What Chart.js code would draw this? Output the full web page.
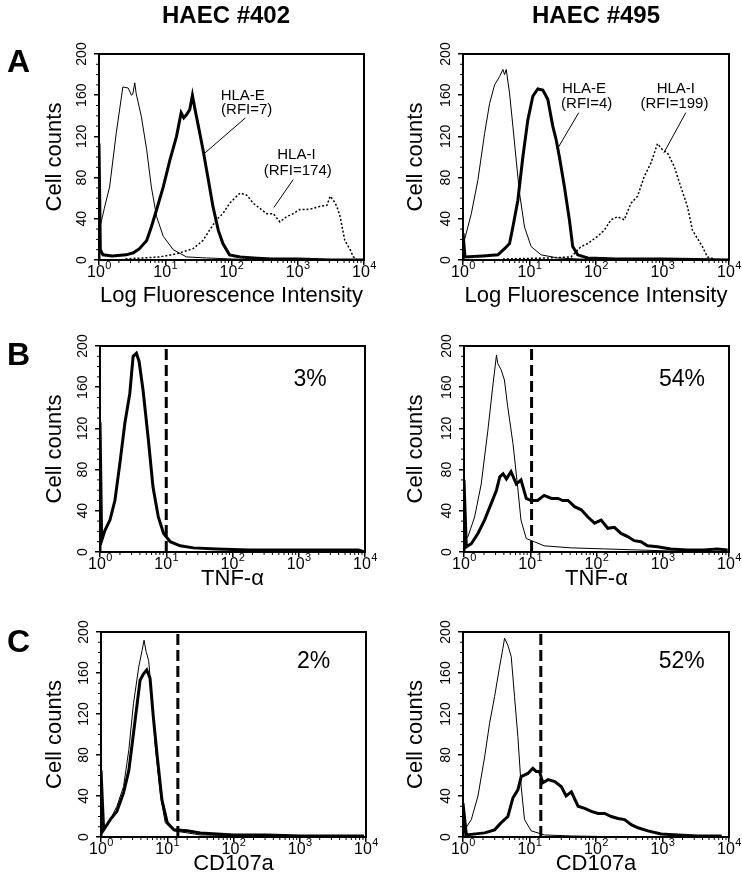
<!DOCTYPE html>
<html>
<head>
<meta charset="utf-8">
<script src="https://cdn.jsdelivr.net/npm/chart.js@4"></script>
<style>
body{margin:0;background:#fff;width:742px;height:885px;position:relative;overflow:hidden}
canvas{position:absolute}
</style>
</head>
<body>
<canvas id="a402"></canvas><canvas id="a495"></canvas>
<canvas id="b402"></canvas><canvas id="b495"></canvas>
<canvas id="c402"></canvas><canvas id="c495"></canvas>
<script>
"use strict"

// x values are log10 decades (0 = 10^0 ... 4 = 10^4), y values are cell counts
// panel A, HAEC #402
var a402Ctrl = [[0,28],[0.08,50],[0.16,71],[0.26,123],[0.36,168],[0.44,167],[0.49,160],[0.51,161],[0.54,172],[0.56,162],[0.64,139],[0.72,107],[0.79,71],[0.87,42],[0.97,23],[1.12,10],[1.32,3],[1.62,2],[2.0,1],[2.4,0]]
var a402HlaE = [[0,0],[0,113],[0.02,10],[0.06,5],[0.2,4],[0.41,5],[0.52,7],[0.61,11],[0.72,19],[0.79,32],[0.87,49],[0.97,71],[1.07,97],[1.17,120],[1.24,143],[1.28,138],[1.32,141],[1.37,146],[1.41,160],[1.45,146],[1.50,130],[1.57,107],[1.65,78],[1.72,52],[1.80,29],[1.87,16],[1.97,5],[2.13,3],[2.33,2],[2.6,1],[3.0,1],[3.5,0],[4,0]]
var a402HlaI = [[0.4,1],[0.92,3],[1.17,6],[1.42,11],[1.57,19],[1.67,29],[1.77,39],[1.87,45],[1.97,55],[2.08,62],[2.13,65],[2.23,63],[2.33,55],[2.43,50],[2.53,45],[2.63,45],[2.73,37],[2.83,42],[2.93,45],[3.03,49],[3.13,49],[3.23,50],[3.33,52],[3.44,53],[3.49,62],[3.54,58],[3.59,52],[3.64,42],[3.71,19],[3.79,10],[3.84,3],[3.89,1]]
// panel A, HAEC #495
var a495Ctrl = [[0.02,19],[0.125,45],[0.225,78],[0.325,123],[0.40,152],[0.475,170],[0.55,178],[0.60,185],[0.625,180],[0.65,185],[0.70,162],[0.75,130],[0.80,97],[0.85,65],[0.925,32],[1.025,13],[1.175,5],[1.425,2],[1.725,1],[2.2,0]]
var a495HlaE = [[0,0],[0,26],[0.03,3],[0.3,4],[0.525,5],[0.625,11],[0.7,16],[0.75,32],[0.825,58],[0.9,100],[0.975,136],[1.05,159],[1.125,166],[1.2,165],[1.275,156],[1.35,130],[1.4,117],[1.45,100],[1.525,71],[1.6,39],[1.65,13],[1.725,5],[1.875,2],[2.3,1],[3,1],[4,0]]
var a495HlaI = [[0.6,1],[1.3,2],[1.625,3],[1.775,13],[1.875,16],[2.025,23],[2.125,29],[2.225,39],[2.325,42],[2.425,39],[2.525,55],[2.625,62],[2.725,81],[2.825,94],[2.925,113],[3.0,107],[3.075,104],[3.175,91],[3.275,71],[3.375,52],[3.45,29],[3.525,21],[3.6,13],[3.675,3],[3.775,1]]
// panel B, TNF-alpha
var b402Stim = [[0,0],[0,126],[0.025,11],[0.075,21],[0.15,31],[0.225,50],[0.3,86],[0.375,125],[0.45,154],[0.5,190],[0.55,193],[0.59,185],[0.65,157],[0.73,109],[0.8,63],[0.88,34],[0.96,18],[1.06,10],[1.21,6],[1.41,4],[1.76,3],[2.26,2],[3.0,2],[3.52,2],[3.9,2],[4,0]]
var b495Ctrl = [[0,10],[0.06,15],[0.16,34],[0.26,66],[0.36,118],[0.44,164],[0.49,191],[0.51,183],[0.56,177],[0.61,167],[0.66,141],[0.74,105],[0.81,63],[0.86,31],[0.94,13],[1.06,10],[1.21,6],[1.62,4],[2.12,3],[2.62,2],[3.12,1],[3.6,0]]
var b495Stim = [[0,0],[0,70],[0.035,5],[0.11,8],[0.21,18],[0.31,31],[0.41,47],[0.49,60],[0.54,73],[0.59,76],[0.64,71],[0.71,78],[0.79,66],[0.86,70],[0.94,52],[1.01,50],[1.11,50],[1.21,55],[1.32,52],[1.42,52],[1.49,50],[1.57,50],[1.67,44],[1.77,41],[1.87,34],[1.97,28],[2.07,31],[2.17,23],[2.27,24],[2.37,18],[2.47,15],[2.57,11],[2.67,10],[2.77,6],[2.92,5],[3.12,3],[3.37,2],[3.62,2],[3.82,3],[3.98,2]]
// panel C, CD107a
var c402Ctrl = [[0.04,7],[0.14,17],[0.24,30],[0.34,49],[0.42,85],[0.49,130],[0.57,166],[0.62,182],[0.65,192],[0.68,181],[0.72,172],[0.77,133],[0.82,88],[0.9,40],[0.97,14],[1.1,6],[1.5,2],[2.5,1],[3.2,0]]
var c402Stim = [[0,0],[0,65],[0.04,7],[0.14,17],[0.24,25],[0.34,43],[0.42,65],[0.49,101],[0.54,127],[0.59,153],[0.64,159],[0.69,163],[0.74,155],[0.79,117],[0.85,78],[0.92,36],[1.0,14],[1.1,7],[1.3,6],[1.5,4],[2.0,2],[2.5,2],[3.0,1],[3.5,1],[3.97,1]]
var c495Ctrl = [[0.025,7],[0.125,17],[0.225,40],[0.325,78],[0.4,111],[0.475,137],[0.55,166],[0.6,184],[0.625,194],[0.675,187],[0.725,176],[0.775,137],[0.825,98],[0.875,49],[0.925,17],[1.025,6],[1.225,2],[1.63,1],[2.5,0]]
var c495Stim = [[0,0],[0,33],[0.05,2],[0.325,4],[0.475,7],[0.575,14],[0.675,20],[0.75,38],[0.825,46],[0.875,59],[0.975,62],[1.05,67],[1.1,64],[1.15,64],[1.2,53],[1.28,56],[1.38,54],[1.48,49],[1.55,40],[1.63,44],[1.73,30],[1.83,28],[1.93,25],[2.03,23],[2.13,23],[2.23,20],[2.33,18],[2.43,17],[2.53,12],[2.63,9],[2.78,6],[2.98,3],[3.23,2],[3.53,1],[3.89,1]]

// gate positions (decades) and percent positive
var gates = {b402: 1.0, b495: 1.02, c402: 1.16, c495: 1.17}
var percents = {b402: "3%", b495: "54%", c402: "2%", c495: "52%"}
var yTicks = [0, 40, 80, 120, 160, 200]
var xDecades = [0, 1, 2, 3, 4]

Chart.defaults.font.family = '"Liberation Sans", Arial, Helvetica, sans-serif'
Chart.defaults.color = '#000'

function line(points, kind){
	var ds = {
		data: points.map(function(p){ return {x: p[0], y: p[1]} }),
		showLine: true, pointRadius: 0, borderColor: '#000', fill: false, tension: 0,
		borderWidth: 1, borderJoinStyle: 'miter'
	}
	if (kind == 'thick') ds.borderWidth = 3
	if (kind == 'dot') { ds.borderWidth = 1.5; ds.borderDash = [2, 2] }
	if (kind == 'gate') { ds.borderWidth = 3; ds.borderDash = [11, 5] }
	return ds
}

var decor = {
	id: 'decor',
	afterDraw: function(chart, args, opts){
		var ctx = chart.ctx, a = chart.chartArea, x = chart.scales.x, y = chart.scales.y
		ctx.save()
		ctx.strokeStyle = '#000'
		ctx.lineWidth = 2
		ctx.strokeRect(a.left, a.top, a.right - a.left, a.bottom - a.top)
		// minor ticks
		ctx.lineWidth = 1
		ctx.beginPath()
		for (var d = 0; d < 4; d++){
			for (var k = 2; k < 10; k++){
				var px = x.getPixelForValue(d + Math.log10(k))
				ctx.moveTo(px, a.bottom); ctx.lineTo(px, a.bottom + 3)
			}
		}
		for (var v = 10; v < 200; v += 10){
			if (v % 40 == 0) continue
			var py = y.getPixelForValue(v)
			ctx.moveTo(a.left - 3, py); ctx.lineTo(a.left, py)
		}
		ctx.stroke()
		// 10^n tick labels
		ctx.fillStyle = '#000'
		ctx.textBaseline = 'alphabetic'
		ctx.textAlign = 'left'
		xDecades.forEach(function(n){
			var px = x.getPixelForValue(n)
			ctx.font = '16px "Liberation Sans"'
			var w1 = ctx.measureText('10').width
			ctx.font = '11px "Liberation Sans"'
			var w2 = ctx.measureText(String(n)).width
			var start = px - (w1 + w2) / 2
			ctx.font = '16px "Liberation Sans"'
			ctx.fillText('10', start, a.bottom + 17)
			ctx.font = '11px "Liberation Sans"'
			ctx.fillText(String(n), start + w1 + 0.5, a.bottom + 9)
		})
		// leader lines in data coordinates
		ctx.lineWidth = 1
		;(opts.leaders || []).forEach(function(l){
			ctx.beginPath()
			ctx.moveTo(x.getPixelForValue(l[0]), y.getPixelForValue(l[1]))
			ctx.lineTo(x.getPixelForValue(l[2]), y.getPixelForValue(l[3]))
			ctx.stroke()
		})
		// notes in data coordinates
		ctx.textAlign = 'center'
		ctx.textBaseline = 'middle'
		;(opts.notes || []).forEach(function(n){
			ctx.font = n.size + 'px "Liberation Sans"'
			ctx.fillText(n.text, x.getPixelForValue(n.x), y.getPixelForValue(n.y))
		})
		// headers and panel letters in canvas pixels
		ctx.textBaseline = 'alphabetic'
		;(opts.labels || []).forEach(function(l){
			ctx.font = 'bold ' + l.size + 'px "Liberation Sans"'
			ctx.textAlign = l.align
			ctx.fillText(l.text, l.x, l.y)
		})
		ctx.restore()
	}
}

function panel(id, box, datasets, xTitle, extra){
	var el = document.getElementById(id)
	el.width = box.w; el.height = box.h
	el.style.left = box.left + 'px'; el.style.top = box.top + 'px'
	return new Chart(el, {
		type: 'scatter',
		data: {datasets: datasets},
		plugins: [decor],
		options: {
			responsive: false, animation: false,
			layout: {padding: {left: 0, right: box.padRight, top: box.padTop, bottom: 0}},
			plugins: {legend: {display: false}, tooltip: {enabled: false}, decor: extra},
			scales: {
				x: {
					type: 'linear', min: 0, max: 4,
					afterBuildTicks: function(s){ s.ticks = xDecades.map(function(v){ return {value: v} }) },
					afterFit: function(s){ s.height = box.xHeight },
					ticks: {display: false},
					grid: {drawOnChartArea: false, tickLength: 5, color: '#000', lineWidth: 1.5},
					border: {color: '#000', width: 2},
					title: {display: true, text: xTitle, font: {size: 22}, padding: {top: 0, bottom: box.titlePad}}
				},
				y: {
					min: 0, max: 200,
					afterBuildTicks: function(s){ s.ticks = yTicks.map(function(v){ return {value: v} }) },
					afterFit: function(s){ s.width = box.yWidth },
					ticks: {font: {size: 14}, minRotation: 90, maxRotation: 90, crossAlign: 'center', padding: 0},
					grid: {drawOnChartArea: false, tickLength: 5, color: '#000', lineWidth: 1.5},
					border: {color: '#000', width: 2},
					title: {display: true, text: 'Cell counts', font: {size: 22}, padding: {top: box.yTitlePad, bottom: 0}}
				}
			}
		}
	})
}

function box(col, row, yWidth){
	var b = {top: row.top, h: row.h, padTop: row.padTop, xHeight: row.xHeight, titlePad: row.titlePad, yWidth: yWidth}
	if (col == 0){ b.left = 0; b.w = 392; b.padRight = 392 - yWidth - 265; b.yTitlePad = 42 }
	else { b.left = 371; b.w = 371; b.padRight = 13; b.yTitlePad = 32 }
	return b
}

var rowA = {top: 0, h: 315, padTop: 54, xHeight: 55, titlePad: 6}
var rowB = {top: 315, h: 295, padTop: 31, xHeight: 58, titlePad: 18}
var rowC = {top: 610, h: 275, padTop: 22, xHeight: 48, titlePad: 8}
var fl = 'Log Fluorescence Intensity'

panel('a402', box(0, rowA, 99), [line(a402HlaI, 'dot'), line(a402Ctrl, 'thin'), line(a402HlaE, 'thick')], fl, {
	labels: [{text: 'HAEC #402', x: 226, y: 23, size: 24, align: 'center'}, {text: 'A', x: 7, y: 72, size: 32, align: 'left'}],
	notes: [{text: 'HLA-E', x: 2.17, y: 159, size: 15}, {text: '(RFI=7)', x: 2.23, y: 146, size: 15},
		{text: 'HLA-I', x: 2.98, y: 102, size: 15}, {text: '(RFI=174)', x: 3.0, y: 87, size: 15}],
	leaders: [[2.21, 138, 1.60, 104], [2.93, 78, 2.64, 51]]
})
panel('a495', box(1, rowA, 92), [line(a495HlaI, 'dot'), line(a495Ctrl, 'thin'), line(a495HlaE, 'thick')], fl, {
	labels: [{text: 'HAEC #495', x: 225, y: 23, size: 24, align: 'center'}],
	notes: [{text: 'HLA-E', x: 1.82, y: 166, size: 15}, {text: '(RFI=4)', x: 1.86, y: 152, size: 15},
		{text: 'HLA-I', x: 3.20, y: 166, size: 15}, {text: '(RFI=199)', x: 3.18, y: 152, size: 15}],
	leaders: [[1.74, 143, 1.43, 109], [3.35, 143, 3.02, 104]]
})
panel('b402', box(0, rowB, 100), [line([[gates.b402, 0], [gates.b402, 200]], 'gate'), line(b402Stim, 'thick')], 'TNF-α', {
	labels: [{text: 'B', x: 7, y: 50, size: 32, align: 'left'}],
	notes: [{text: percents.b402, x: 3.17, y: 167, size: 23}]
})
panel('b495', box(1, rowB, 93), [line([[gates.b495, 0], [gates.b495, 200]], 'gate'), line(b495Ctrl, 'thin'), line(b495Stim, 'thick')], 'TNF-α', {
	notes: [{text: percents.b495, x: 3.29, y: 167, size: 23}]
})
panel('c402', box(0, rowC, 101), [line([[gates.c402, 0], [gates.c402, 200]], 'gate'), line(c402Ctrl, 'thin'), line(c402Stim, 'thick')], 'CD107a', {
	labels: [{text: 'C', x: 7, y: 42, size: 32, align: 'left'}],
	notes: [{text: percents.c402, x: 3.21, y: 171, size: 23}]
})
panel('c495', box(1, rowC, 92), [line([[gates.c495, 0], [gates.c495, 200]], 'gate'), line(c495Ctrl, 'thin'), line(c495Stim, 'thick')], 'CD107a', {
	notes: [{text: percents.c495, x: 3.29, y: 171, size: 23}]
})
</script>
</body>
</html>
